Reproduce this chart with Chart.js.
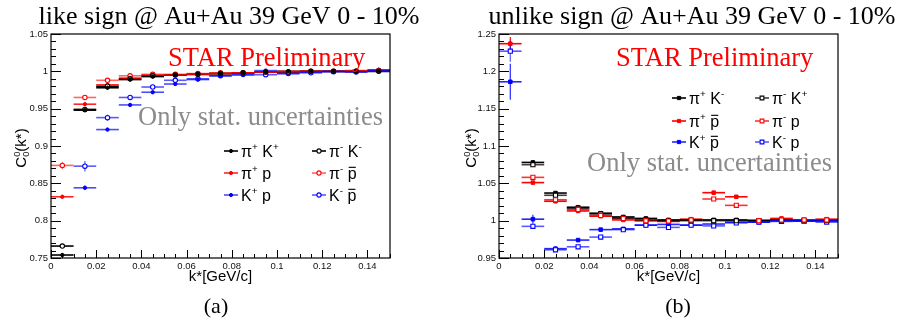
<!DOCTYPE html>
<html>
<head>
<meta charset="utf-8">
<script src="https://cdn.jsdelivr.net/npm/chart.js@4.4.0/dist/chart.umd.min.js"></script>
<style>
    body { margin: 0; background: #fff; }
    #wrap { display: flex; width: 900px; height: 325px; }
    canvas { display: block; }
</style>
</head>
<body>
<div id="wrap">
    <div style="width:450px;height:325px"><canvas id="like_chart" width="450" height="325"></canvas></div>
    <div style="width:450px;height:325px"><canvas id="unlike_chart" width="450" height="325"></canvas></div>
</div>
<script>
// k* bin centres, bins are 0.01 wide
var kBins = [0.005, 0.015, 0.025, 0.035, 0.045, 0.055, 0.065, 0.075, 0.085, 0.095, 0.105, 0.115, 0.125, 0.135, 0.145]
var binHalf = 0.005

var xTicks = [0, 0.02, 0.04, 0.06, 0.08, 0.1, 0.12, 0.14]
var xTickLabels = ['0', '0.02', '0.04', '0.06', '0.08', '0.1', '0.12', '0.14']
var likeYTicks = [0.75, 0.8, 0.85, 0.9, 0.95, 1, 1.05]
var likeYTickLabels = ['0.75', '0.8', '0.85', '0.9', '0.95', '1', '1.05']
var unlikeYTicks = [0.95, 1, 1.05, 1.1, 1.15, 1.2, 1.25]
var unlikeYTickLabels = ['0.95', '1', '1.05', '1.1', '1.15', '1.2', '1.25']

// like sign
var piPlusKPlus    = [0.754, 0.948, 0.978, 0.989, 0.993, 0.995, 0.996, 0.997, 0.998, 0.999, 1.000, 1.000, 1.000, 1.000, 1.000]
var piPlusKPlusErr = [0.002, 0.002, 0.002, 0.001, 0.001, 0.001, 0.001, 0.001, 0.001, 0.001, 0.001, 0.001, 0.001, 0.001, 0.001]
var piMinusKMinus    = [0.766, 0.949, 0.980, 0.990, 0.994, 0.995, 0.996, 0.997, 0.998, 0.999, 0.999, 1.000, 1.000, 1.000, 1.000]
var piMinusKMinusErr = [0.002, 0.002, 0.002, 0.001, 0.001, 0.001, 0.001, 0.001, 0.001, 0.001, 0.001, 0.001, 0.001, 0.001, 0.001]
var piPlusP    = [0.832, 0.956, 0.982, 0.991, 0.995, 0.995, 0.996, 0.997, 0.998, 0.999, 1.000, 1.000, 1.000, 1.001, 1.001]
var piPlusPErr = [0.002, 0.002, 0.001, 0.001, 0.001, 0.001, 0.001, 0.001, 0.001, 0.001, 0.001, 0.001, 0.001, 0.001, 0.001]
var piMinusPbar    = [0.874, 0.965, 0.988, 0.994, 0.996, 0.996, 0.997, 0.998, 0.998, 0.999, 0.999, 1.000, 1.000, 1.000, 1.001]
var piMinusPbarErr = [0.005, 0.002, 0.002, 0.001, 0.001, 0.001, 0.001, 0.001, 0.001, 0.001, 0.001, 0.001, 0.001, 0.001, 0.001]
var kPlusP    = [null, 0.844, 0.922, 0.955, 0.972, 0.983, 0.989, 0.994, 0.995, 1.001, 0.997, 0.999, 1.000, 0.9995, 1.002]
var kPlusPErr = [0, 0.003, 0.002, 0.002, 0.002, 0.001, 0.001, 0.001, 0.001, 0.001, 0.001, 0.001, 0.001, 0.001, 0.001]
var kMinusPbar    = [null, 0.873, 0.938, 0.965, 0.979, 0.988, 0.990, 0.994, 0.996, 0.9955, 0.997, 0.998, 0.9995, 0.999, 1.001]
var kMinusPbarErr = [0, 0.007, 0.004, 0.002, 0.002, 0.002, 0.001, 0.001, 0.001, 0.001, 0.001, 0.001, 0.001, 0.001, 0.001]

// unlike sign
var piPlusKMinus    = [null, 1.078, 1.037, 1.018, 1.010, 1.005, 1.003, 1.001, 1.001, 1.001, 1.001, 1.000, 1.001, 1.000, 1.000]
var piPlusKMinusErr = [0, 0.003, 0.002, 0.002, 0.001, 0.001, 0.001, 0.001, 0.001, 0.001, 0.001, 0.001, 0.001, 0.001, 0.001]
var piMinusKPlus    = [null, 1.075, 1.034, 1.0165, 1.009, 1.0035, 1.001, 1.000, 1.000, 1.000, 1.000, 1.000, 1.000, 1.000, 1.000]
var piMinusKPlusErr = [0, 0.003, 0.002, 0.002, 0.001, 0.001, 0.001, 0.001, 0.001, 0.001, 0.001, 0.001, 0.001, 0.001, 0.001]
var piPlusPbar    = [1.237, 1.051, 1.026, 1.013, 1.006, 1.001, 1.000, 0.999, 1.002, 1.0375, 1.032, 1.0005, 1.003, 1.001, 1.002]
var piPlusPbarErr = [0.009, 0.002, 0.002, 0.002, 0.001, 0.001, 0.001, 0.001, 0.001, 0.001, 0.001, 0.001, 0.001, 0.001, 0.001]
var piMinusP    = [null, 1.058, 1.028, 1.015, 1.007, 1.003, 1.000, 0.9995, 1.001, 1.029, 1.0205, 1.000, 1.001, 1.001, 1.001]
var piMinusPErr = [0, 0.002, 0.002, 0.002, 0.001, 0.001, 0.001, 0.001, 0.001, 0.001, 0.001, 0.001, 0.001, 0.001, 0.001]
var kPlusPbar    = [1.186, 1.002, 0.9625, 0.974, 0.988, 0.989, 0.994, 0.995, 0.994, 0.9955, 0.998, 0.998, 1.000, 1.000, 1.000]
var kPlusPbarErr = [0.024, 0.006, 0.003, 0.002, 0.001, 0.001, 0.001, 0.001, 0.001, 0.001, 0.001, 0.001, 0.001, 0.001, 0.001]
var kMinusP    = [1.227, 0.9924, 0.961, 0.965, 0.978, 0.988, 0.994, 0.991, 0.994, 0.993, 0.997, 0.998, 0.999, 0.9995, 0.998]
var kMinusPErr = [0.014, 0.003, 0.002, 0.002, 0.002, 0.001, 0.001, 0.001, 0.001, 0.001, 0.001, 0.001, 0.001, 0.001, 0.001]

var SERIF = 'Liberation Serif'
var SANS = 'Liberation Sans'

function points(vals, errs) {
    var out = []
    kBins.forEach(function (k, i) {
        if (vals[i] !== null) out.push({ x: k, y: vals[i], e: errs[i] })
    })
    return out
}

function series(label, vals, errs, color, barColor, open, style) {
    return {
        label: label,
        data: points(vals, errs),
        barColor: barColor,
        pointStyle: style,
        pointRadius: style === 'rect' ? (open ? 2.9 : 2.5) : (open ? 2.2 : 1.7),
        pointBorderWidth: open ? 1.1 : 1,
        pointBackgroundColor: open ? '#fff' : color,
        pointBorderColor: color,
        pointHoverRadius: 0
    }
}

// ROOT-ish rich text: ^{..} superscript, _{..} subscript, #bar{..} overline
function richWidth(ctx, str, size, family) {
    return drawRich(ctx, str, 0, 0, size, family, true)
}
function drawRich(ctx, str, x, y, size, family, measureOnly) {
    var parts = str.split(/(\^\{[^}]*\}|_\{[^}]*\}|#bar\{[^}]*\})/).filter(function (s) { return s.length })
    var cx = x, supStart = null, supW = 0
    parts.forEach(function (p) {
        var t, w
        if (p.indexOf('^{') === 0) {
            t = p.slice(2, -1)
            ctx.font = (size * 0.62) + 'px "' + family + '"'
            w = ctx.measureText(t).width
            if (!measureOnly) ctx.fillText(t, cx, y - size * 0.42)
            supStart = cx; supW = w
            cx += w
        } else if (p.indexOf('_{') === 0) {
            t = p.slice(2, -1)
            ctx.font = (size * 0.62) + 'px "' + family + '"'
            w = ctx.measureText(t).width
            var sx = supStart !== null ? supStart : cx
            if (!measureOnly) ctx.fillText(t, sx, y + size * 0.22)
            cx = sx + Math.max(w, supStart !== null ? supW : 0)
            supStart = null
        } else if (p.indexOf('#bar{') === 0) {
            t = p.slice(5, -1)
            ctx.font = size + 'px "' + family + '"'
            w = ctx.measureText(t).width
            if (!measureOnly) {
                ctx.fillText(t, cx, y)
                ctx.fillRect(cx + w * 0.1, y - size * 0.74, w * 0.8, Math.max(1, size * 0.07))
            }
            cx += w
            supStart = null
        } else {
            ctx.font = size + 'px "' + family + '"'
            w = ctx.measureText(p).width
            if (!measureOnly) ctx.fillText(p, cx, y)
            cx += w
            supStart = null
        }
    })
    return cx - x
}

var errorBars = {
    id: 'errorBars',
    beforeDatasetsDraw: function (chart) {
        var ctx = chart.ctx, xs = chart.scales.x, ys = chart.scales.y, a = chart.chartArea
        ctx.save()
        ctx.beginPath()
        ctx.rect(a.left, a.top, a.right - a.left, a.bottom - a.top)
        ctx.clip()
        chart.data.datasets.forEach(function (ds) {
            ctx.strokeStyle = ds.barColor
            ds.data.forEach(function (p) {
                var py = ys.getPixelForValue(p.y)
                ctx.lineWidth = 1.6
                ctx.beginPath()
                ctx.moveTo(xs.getPixelForValue(p.x - binHalf), py)
                ctx.lineTo(xs.getPixelForValue(p.x + binHalf), py)
                ctx.stroke()
                ctx.lineWidth = 1.2
                ctx.beginPath()
                ctx.moveTo(xs.getPixelForValue(p.x), ys.getPixelForValue(p.y - p.e))
                ctx.lineTo(xs.getPixelForValue(p.x), ys.getPixelForValue(p.y + p.e))
                ctx.stroke()
            })
        })
        ctx.restore()
    }
}

var frameAndText = {
    id: 'frameAndText',
    afterDraw: function (chart) {
        var ctx = chart.ctx, xs = chart.scales.x, ys = chart.scales.y, a = chart.chartArea
        var o = chart.options.plugins.frameAndText
        ctx.save()
        // frame
        ctx.strokeStyle = '#000'
        ctx.lineWidth = 1.2
        ctx.strokeRect(a.left, a.top, a.right - a.left, a.bottom - a.top)
        // inward ticks, ROOT style
        ctx.lineWidth = 1
        ctx.beginPath()
        for (var i = 0; i <= 30; i++) {
            var v = ys.min + i * 0.01
            var py = Math.round(ys.getPixelForValue(v)) + 0.5
            ctx.moveTo(a.left, py)
            ctx.lineTo(a.left + (i % 5 === 0 ? 10 : 5), py)
        }
        for (var j = 0; j <= 30; j++) {
            var px = Math.round(xs.getPixelForValue(j * 0.005)) + 0.5
            ctx.moveTo(px, a.bottom)
            ctx.lineTo(px, a.bottom - (j % 4 === 0 ? 8 : 4))
        }
        ctx.stroke()

        // overlay texts clipped to the frame
        ctx.save()
        ctx.beginPath()
        ctx.rect(a.left, a.top, a.right - a.left, a.bottom - a.top)
        ctx.clip()
        ctx.textBaseline = 'alphabetic'
        ctx.fillStyle = '#ff0000'
        ctx.font = '26.5px "' + SERIF + '"'
        ctx.fillText('STAR Preliminary', o.star[0], o.star[1])
        ctx.fillStyle = '#8c8c8c'
        ctx.fillText('Only stat. uncertainties', o.stat[0], o.stat[1])
        ctx.restore()

        // title and caption
        ctx.fillStyle = '#000'
        ctx.textAlign = 'center'
        ctx.font = '26px "' + SERIF + '"'
        ctx.fillText(o.title, o.titleX, 24)
        ctx.font = '22px "' + SERIF + '"'
        ctx.fillText(o.caption, o.captionX, 313)

        // axis titles
        ctx.font = '15px "' + SANS + '"'
        ctx.fillText('k*[GeV/c]', (a.left + a.right) / 2, 281)
        ctx.textAlign = 'left'
        ctx.save()
        ctx.translate(o.yTitleX, 148)
        ctx.rotate(-Math.PI / 2)
        var yt = 'C^{0}_{0}(k*)'
        var w = richWidth(ctx, yt, 15, SANS)
        drawRich(ctx, yt, -w / 2, 0, 15, SANS)
        ctx.restore()

        // legend, two columns
        o.legend.forEach(function (item) {
            var ds = chart.data.datasets[item.ds]
            var lx = item.x, ly = item.y
            ctx.strokeStyle = ds.barColor
            ctx.lineWidth = 1.6
            ctx.beginPath()
            ctx.moveTo(lx, ly)
            ctx.lineTo(lx + 14, ly)
            ctx.stroke()
            ctx.lineWidth = ds.pointBorderWidth
            ctx.fillStyle = ds.pointBackgroundColor
            ctx.strokeStyle = ds.pointBorderColor
            var r = ds.pointStyle === 'rect' ? ds.pointRadius * 0.65 : ds.pointRadius * 0.95
            ctx.beginPath()
            if (ds.pointStyle === 'rect') ctx.rect(lx + 7 - r, ly - r, 2 * r, 2 * r)
            else ctx.arc(lx + 7, ly, r, 0, Math.PI * 2)
            ctx.fill()
            ctx.stroke()
            ctx.fillStyle = '#000'
            drawRich(ctx, item.text, lx + 17, ly + 5.6, 16, SANS)
        })
        ctx.restore()
    }
}

function makePanel(id, datasets, yTicks, yTickLabels, yAxisWidth, rightPad, extra) {
    return new Chart(document.getElementById(id), {
        type: 'scatter',
        data: { datasets: datasets },
        plugins: [errorBars, frameAndText],
        options: {
            responsive: false,
            animation: false,
            devicePixelRatio: 1,
            layout: { padding: { left: 0, top: 34, right: rightPad, bottom: 0 } },
            events: [],
            plugins: {
                legend: { display: false },
                tooltip: { enabled: false },
                frameAndText: extra
            },
            scales: {
                x: {
                    type: 'linear',
                    min: 0,
                    max: 0.15,
                    afterBuildTicks: function (s) { s.ticks = xTicks.map(function (v) { return { value: v } }) },
                    afterFit: function (s) { s.height = 67 },
                    grid: { display: false, drawTicks: false },
                    border: { display: false },
                    ticks: {
                        autoSkip: false,
                        maxRotation: 0,
                        padding: 3,
                        color: '#111',
                        font: { family: SANS, size: 9.5 },
                        callback: function (v, i) { return xTickLabels[i] }
                    }
                },
                y: {
                    type: 'linear',
                    min: yTicks[0],
                    max: yTicks[yTicks.length - 1],
                    afterBuildTicks: function (s) { s.ticks = yTicks.map(function (v) { return { value: v } }) },
                    afterFit: function (s) { s.width = yAxisWidth },
                    grid: { display: false, drawTicks: false },
                    border: { display: false },
                    ticks: {
                        autoSkip: false,
                        padding: 3,
                        color: '#111',
                        font: { family: SANS, size: 9.5 },
                        callback: function (v, i) { return yTickLabels[i] }
                    }
                }
            }
        }
    })
}

var likeChart = makePanel('like_chart', [
    series('π+ K+', piPlusKPlus, piPlusKPlusErr, '#000', '#000', false, 'circle'),
    series('π- K-', piMinusKMinus, piMinusKMinusErr, '#000', '#000', true, 'circle'),
    series('π+ p', piPlusP, piPlusPErr, '#ff0000', 'rgba(255, 0, 0, 0.85)', false, 'circle'),
    series('π- pbar', piMinusPbar, piMinusPbarErr, '#ff0000', 'rgba(255, 0, 0, 0.6)', true, 'circle'),
    series('K+ p', kPlusP, kPlusPErr, '#0000ff', 'rgba(0, 0, 255, 0.7)', false, 'circle'),
    series('K- pbar', kMinusPbar, kMinusPbarErr, '#0000ff', 'rgba(0, 0, 255, 0.65)', true, 'circle')
], likeYTicks, likeYTickLabels, 51, 60, {
    title: 'like sign @ Au+Au 39 GeV 0 - 10%',
    titleX: 229,
    caption: '(a)',
    captionX: 216,
    yTitleX: 26,
    star: [168, 66],
    stat: [138, 125],
    legend: [
        { ds: 0, x: 224, y: 151, text: 'π^{+} K^{+}' },
        { ds: 2, x: 224, y: 173, text: 'π^{+} p' },
        { ds: 4, x: 224, y: 195, text: 'K^{+} p' },
        { ds: 1, x: 312, y: 151, text: 'π^{-} K^{-}' },
        { ds: 3, x: 312, y: 173, text: 'π^{-} #bar{p}' },
        { ds: 5, x: 312, y: 195, text: 'K^{-} #bar{p}' }
    ]
})

var unlikeChart = makePanel('unlike_chart', [
    series('π- p', piMinusP, piMinusPErr, '#ff0000', 'rgba(255, 0, 0, 0.8)', true, 'rect'),
    series('π+ pbar', piPlusPbar, piPlusPbarErr, '#ff0000', '#ff0000', false, 'rect'),
    series('π- K+', piMinusKPlus, piMinusKPlusErr, '#000', 'rgba(0, 0, 0, 0.75)', true, 'rect'),
    series('π+ K-', piPlusKMinus, piPlusKMinusErr, '#000', '#000', false, 'rect'),
    series('K- p', kMinusP, kMinusPErr, '#0000ff', 'rgba(0, 0, 255, 0.65)', true, 'rect'),
    series('K+ pbar', kPlusPbar, kPlusPbarErr, '#0000ff', 'rgba(0, 0, 255, 0.85)', false, 'rect')
], unlikeYTicks, unlikeYTickLabels, 49, 62, {
    title: 'unlike sign @ Au+Au 39 GeV 0 - 10%',
    titleX: 242,
    caption: '(b)',
    captionX: 228,
    yTitleX: 26,
    star: [166, 66],
    stat: [137, 171],
    legend: [
        { ds: 3, x: 222, y: 98, text: 'π^{+} K^{-}' },
        { ds: 1, x: 222, y: 121, text: 'π^{+} #bar{p}' },
        { ds: 5, x: 222, y: 142, text: 'K^{+} #bar{p}' },
        { ds: 2, x: 305, y: 98, text: 'π^{-} K^{+}' },
        { ds: 0, x: 305, y: 121, text: 'π^{-} p' },
        { ds: 4, x: 305, y: 142, text: 'K^{-} p' }
    ]
})
</script>
</body>
</html>
